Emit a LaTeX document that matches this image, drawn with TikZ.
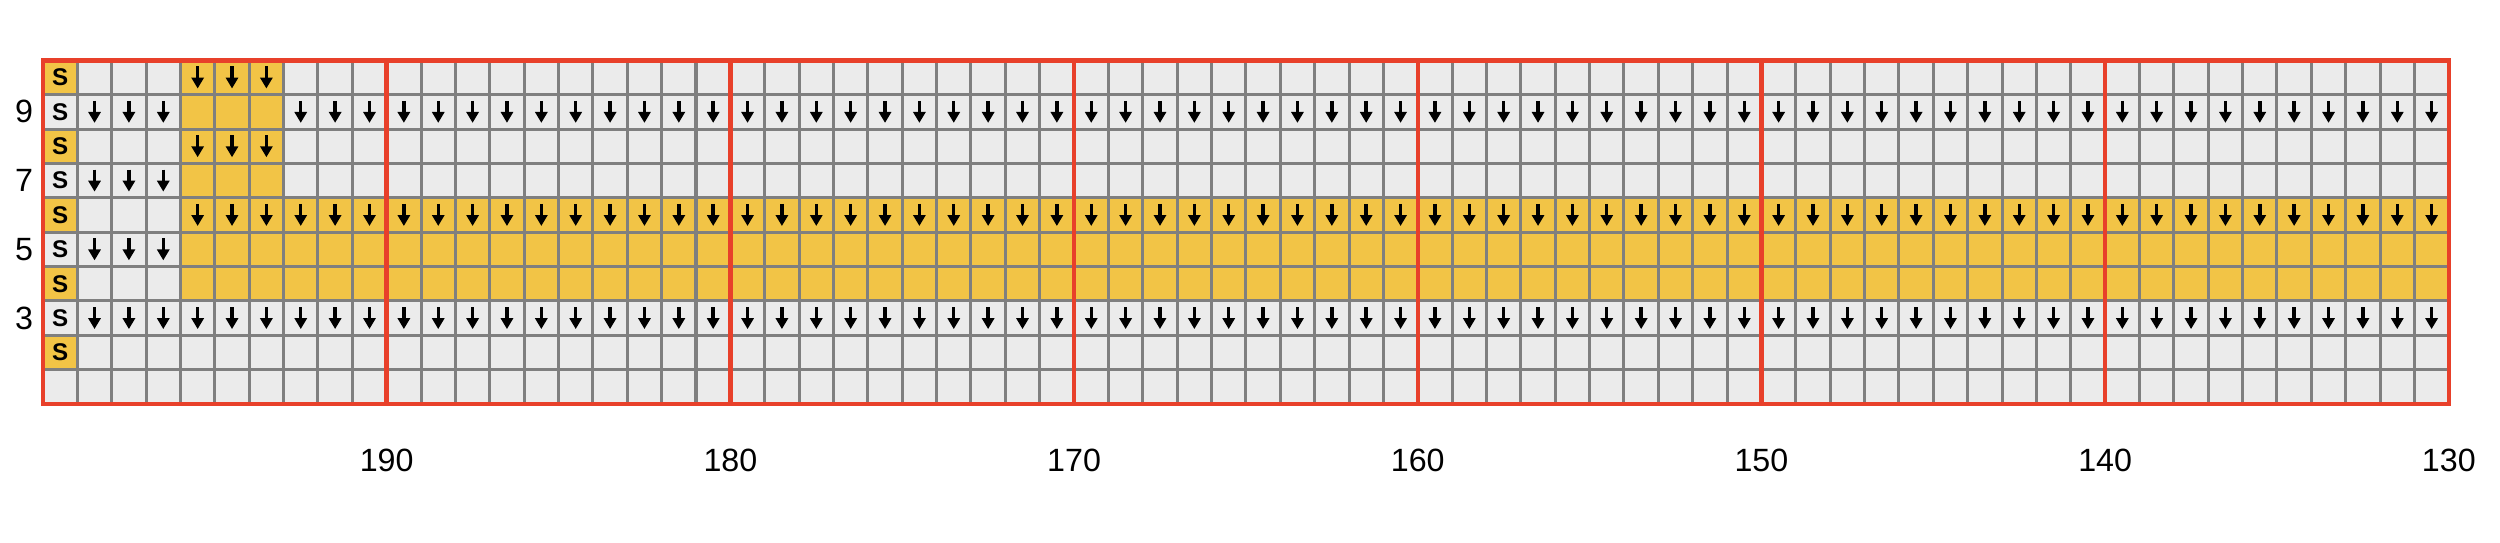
\documentclass[tikz,border=0pt]{standalone}
\usepackage{fontspec}
\setmainfont{Liberation Sans}
\usetikzlibrary{arrows.meta}

\definecolor{cellgray}{HTML}{EBEBEB}
\definecolor{gridgray}{HTML}{7F7F7F}
\definecolor{mapyellow}{HTML}{F2C446}
\definecolor{mapred}{HTML}{E8402A}

\tikzset{
  down/.style={line width=1.7pt,-{Triangle[width=0.21cm,length=0.19cm]}},
  scell/.style={font=\bfseries\fontsize{12}{14}\selectfont,inner sep=0pt},
  axislabel/.style={font=\fontsize{16}{19}\selectfont,inner sep=0pt}
}

\begin{document}
\begin{tikzpicture}[x=0.6cm,y=0.6cm]
\useasboundingbox (-1.251,-4.044) rectangle (71.49,11.755);
% cells
\fill[cellgray] (0,0) rectangle (70,10);
\fill[mapyellow] (4,6) rectangle (7,10);
\fill[mapyellow] (4,3) rectangle (70,6);
\foreach \y in {9,7,5,3,1} \fill[mapyellow] (0,\y) rectangle (1,\y+1);
% grid
\foreach \x in {1,...,69} \draw[gridgray,line width=1.5pt] (\x,0) -- (\x,10);
\foreach \y in {1,...,9} \draw[gridgray,line width=1.5pt] (0,\y) -- (70,\y);
% red frame every 10 positions
\draw[mapred,line width=2.2pt] (0,0) rectangle (70,10);
\foreach \x in {10,20,...,60} \draw[mapred,line width=2.2pt] (\x,0) -- (\x,10);
% S column
\foreach \y in {1,...,9} \node[scell] (s\y) at (0.5,\y+0.5) {S};
% arrows
\foreach \x in {4,5,6} {
  \draw[down] (\x+0.5,9.82) -- (\x+0.5,9.18);
  \draw[down] (\x+0.5,7.82) -- (\x+0.5,7.18);
}
\foreach \x in {1,2,3} {
  \draw[down] (\x+0.5,6.82) -- (\x+0.5,6.18);
  \draw[down] (\x+0.5,4.82) -- (\x+0.5,4.18);
}
\foreach \x in {1,2,3,7,8,...,69} \draw[down] (\x+0.5,8.82) -- (\x+0.5,8.18);
\foreach \x in {4,5,...,69} \draw[down] (\x+0.5,5.82) -- (\x+0.5,5.18);
\foreach \x in {1,2,...,69} \draw[down] (\x+0.5,2.82) -- (\x+0.5,2.18);
% row labels
\foreach \n in {9,7,5,3} \node[axislabel] (row\n) at (-0.55,\n-0.5) {\n};
% position labels
\foreach \i in {1,...,7} {
  \pgfmathtruncatemacro{\pos}{200-10*\i}
  \node[axislabel] (pos\pos) at (10*\i,-1.63) {\pos};
}
\end{tikzpicture}
\end{document}
